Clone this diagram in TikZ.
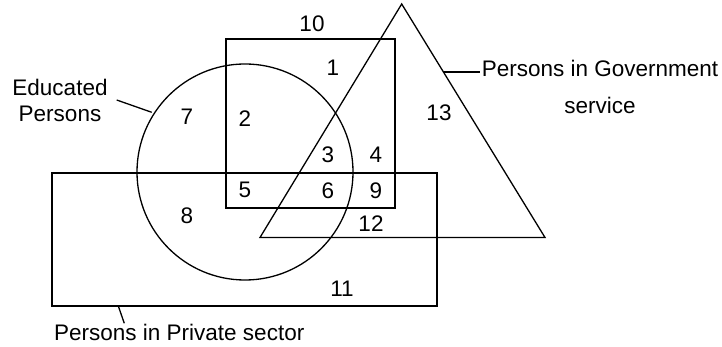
\documentclass[tikz,border=0pt]{standalone}
\usepackage{fontspec}
\setmainfont{Liberation Sans}
\usetikzlibrary{positioning}

\begin{document}
\begin{tikzpicture}[x=1pt,y=-1pt,font=\fontsize{22.5}{26}\selectfont,
  set/.style={draw,line width=1.3pt},
  lead/.style={line width=1.3pt},
  lbl/.style={align=center,inner sep=0pt}]
  \useasboundingbox (0,0) rectangle (722,347);
  % the four sets: circle (educated), square, triangle (government), rectangle (private)
  \draw[set] (245,172) circle[radius=108pt];
  \draw[set] (226,39) rectangle (395,208);
  \draw[set] (401.7,4) -- (260,237.5) -- (545,237.5) -- cycle;
  \draw[set] (52,173) rectangle (437,306);
  % region numbers
  \node (n10) at (312,24) {10}; \node (n1) at (333,68) {1};
  \node (n7) at (187,117) {7};  \node (n2) at (245,119) {2}; \node (n13) at (439,113) {13};
  \node (n3) at (328,155) {3};  \node (n4) at (376,155) {4};
  \node (n5) at (245,190) {5};  \node (n6) at (328,191) {6}; \node (n9) at (376,191) {9};
  \node (n8) at (187,216) {8};  \node (n12) at (371,224) {12};
  \node (n11) at (342,289) {11};
  % set names with leader lines (base = baseline of last line)
  \node[lbl,anchor=base] (edu) at (60,122) {Educated\\Persons};
  \node[lbl,anchor=base] (gov) at (600,114) {Persons in Government\\[11pt]service};
  \node[lbl,anchor=base west] (priv) at (54,340) {Persons in Private sector};
  \coordinate (edutip) at (151.7,112.3); \coordinate (eduend) at (116.7,100);
  \coordinate (govtip) at (443,72);      \coordinate (govend) at (480,72);
  \coordinate (privtip) at (118.3,306);  \coordinate (privend) at (124.3,323.3);
  \draw[lead] (edutip) -- (eduend);
  \draw[lead] (govtip) -- (govend);
  \draw[lead] (privtip) -- (privend);
\end{tikzpicture}
\end{document}
